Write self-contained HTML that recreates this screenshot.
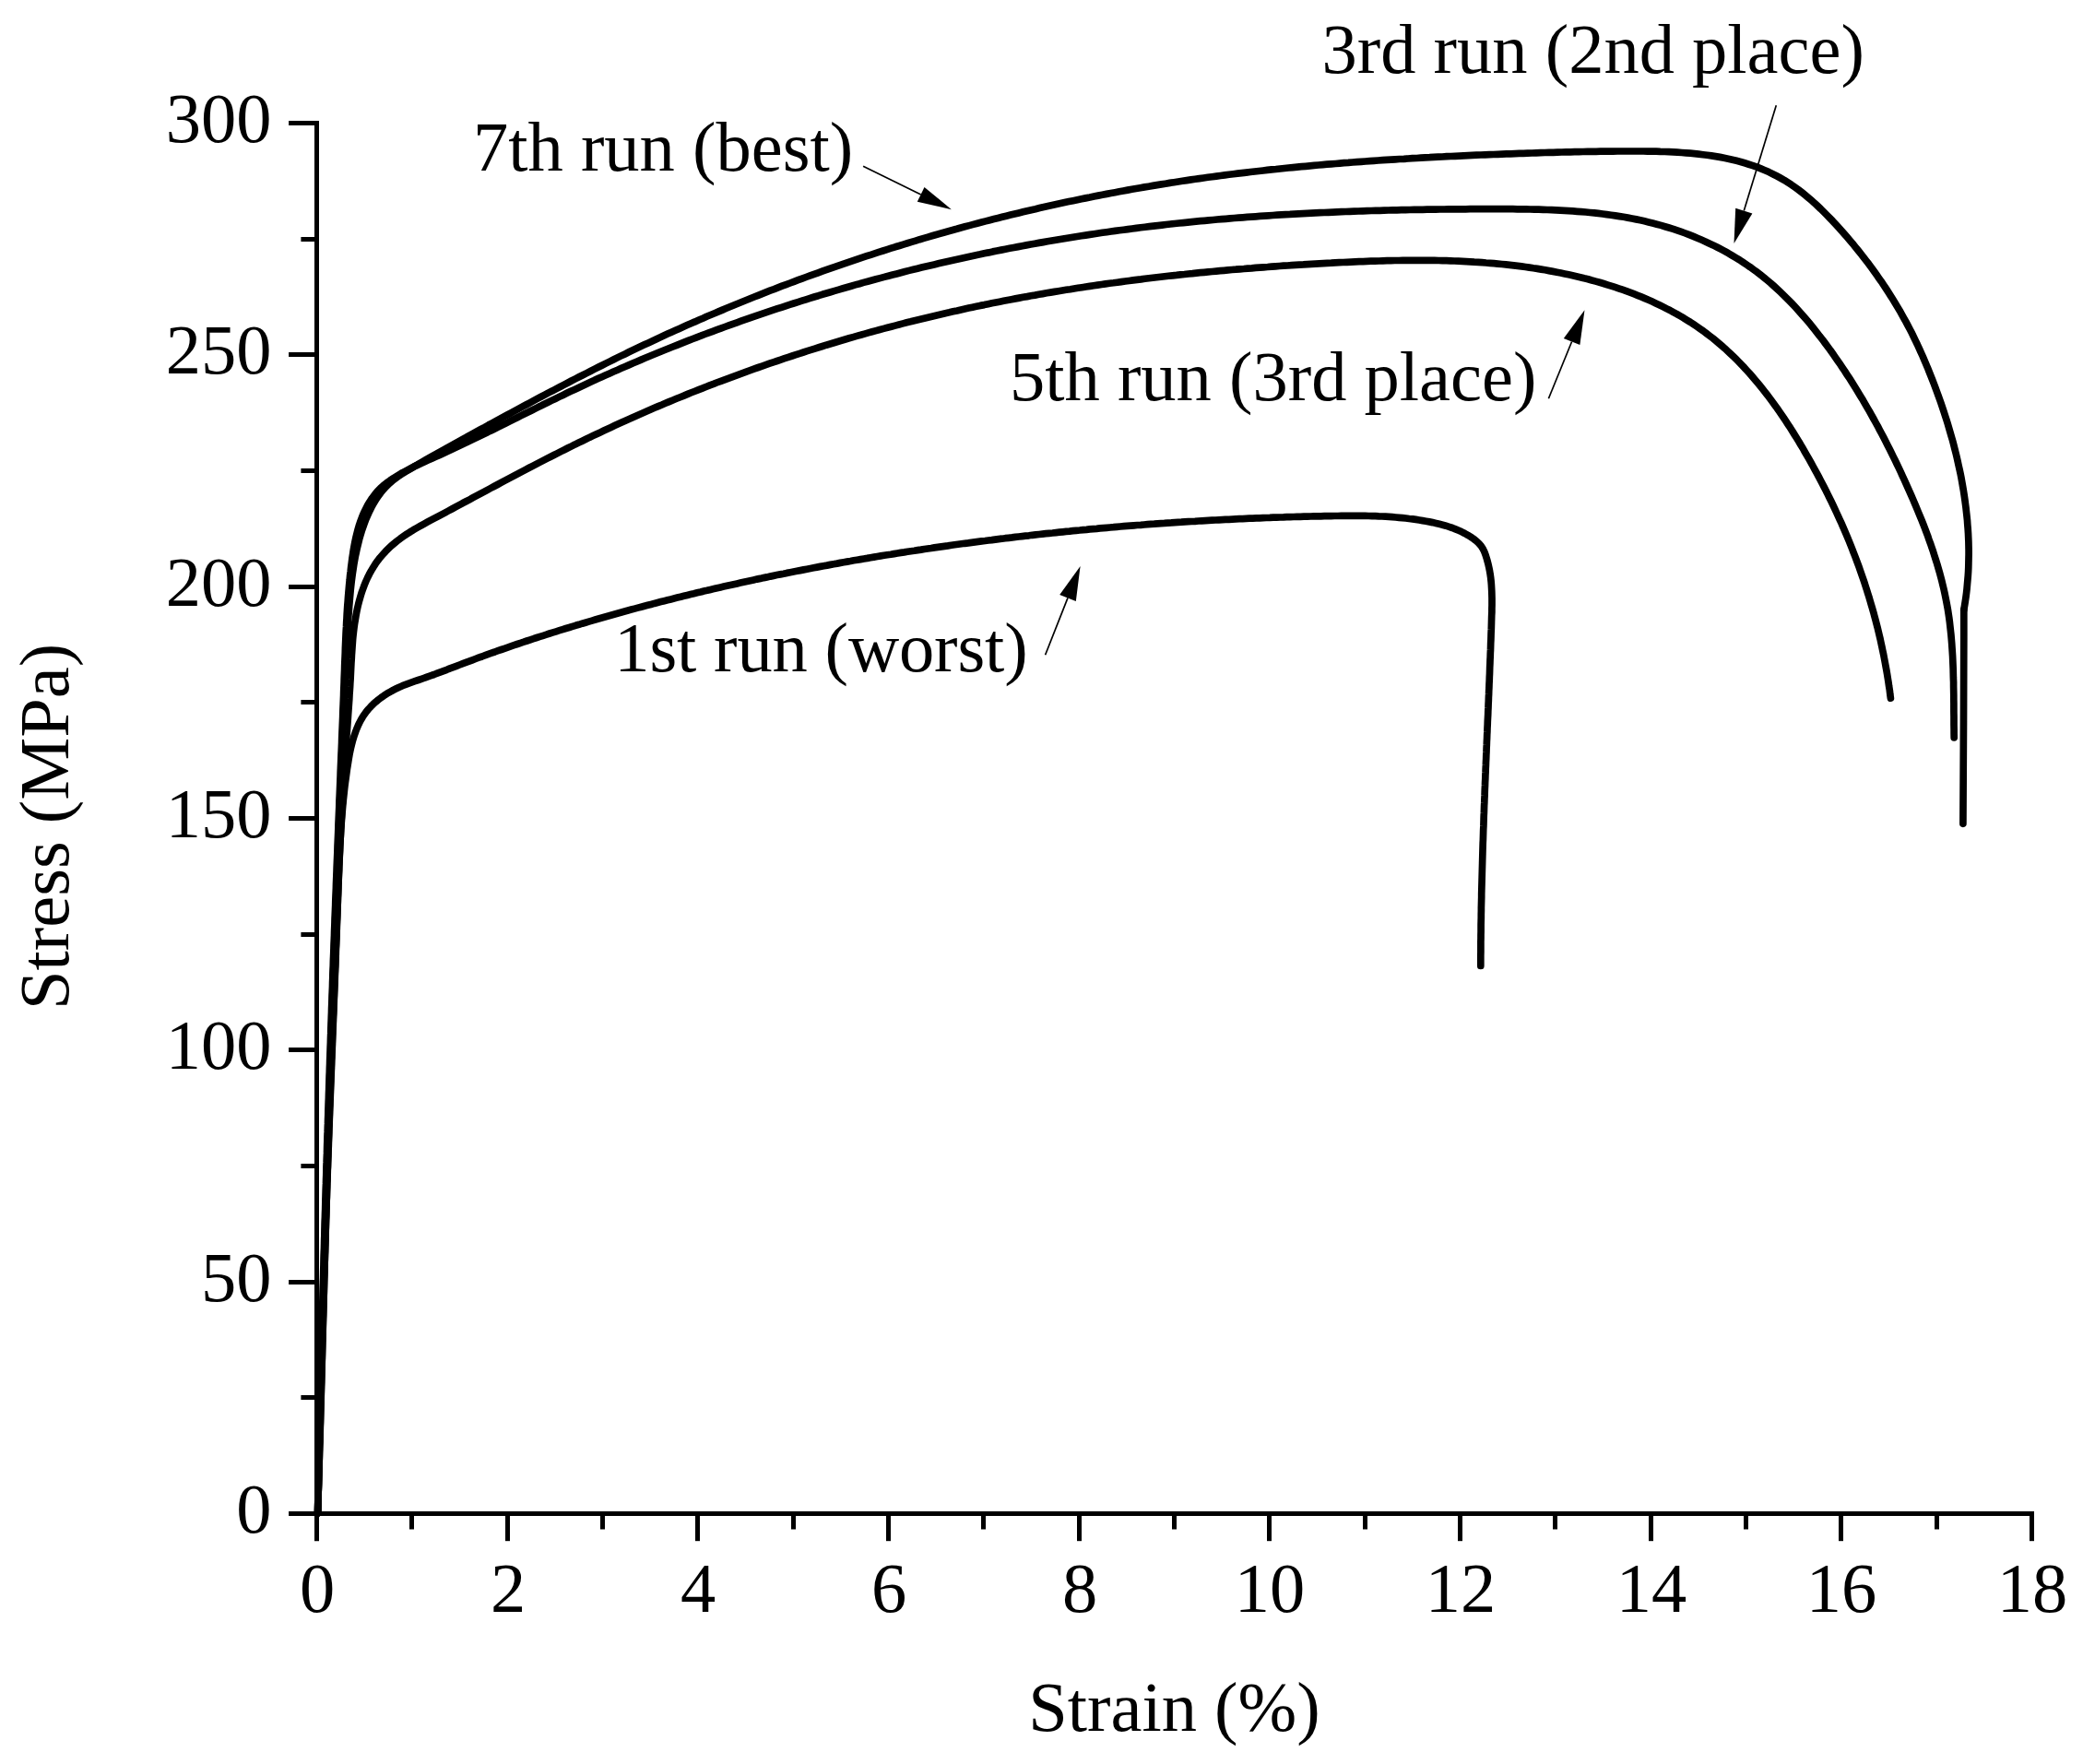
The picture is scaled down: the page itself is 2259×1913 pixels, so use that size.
<!DOCTYPE html>
<html lang="en"><head><meta charset="utf-8"><title>Stress-strain curves</title>
<style>html,body{margin:0;padding:0;background:#fff}body{width:2259px;height:1913px;overflow:hidden}svg{display:block}</style>
</head><body>
<svg width="2259" height="1913" viewBox="0 0 2259 1913" font-family="'Liberation Serif', serif" font-size="76.5" fill="#000">
<rect width="2259" height="1913" fill="#fff"/>
<g stroke="#000" stroke-width="5.0" fill="none" stroke-linecap="butt">
<line x1="343.5" y1="131.0" x2="343.5" y2="1671.2"/>
<line x1="313.1" y1="1641.5" x2="2206.0" y2="1641.5"/>
<line x1="326.4" y1="1515.5" x2="343.5" y2="1515.5"/>
<line x1="313.1" y1="1390.5" x2="343.5" y2="1390.5"/>
<line x1="326.4" y1="1264.5" x2="343.5" y2="1264.5"/>
<line x1="313.1" y1="1138.5" x2="343.5" y2="1138.5"/>
<line x1="326.4" y1="1013.5" x2="343.5" y2="1013.5"/>
<line x1="313.1" y1="887.5" x2="343.5" y2="887.5"/>
<line x1="326.4" y1="761.5" x2="343.5" y2="761.5"/>
<line x1="313.1" y1="636.5" x2="343.5" y2="636.5"/>
<line x1="326.4" y1="510.5" x2="343.5" y2="510.5"/>
<line x1="313.1" y1="384.5" x2="343.5" y2="384.5"/>
<line x1="326.4" y1="259.5" x2="343.5" y2="259.5"/>
<line x1="313.1" y1="133.5" x2="343.5" y2="133.5"/>
<line x1="446.5" y1="1641.5" x2="446.5" y2="1658.5"/>
<line x1="550.5" y1="1641.5" x2="550.5" y2="1671.2"/>
<line x1="653.5" y1="1641.5" x2="653.5" y2="1658.5"/>
<line x1="756.5" y1="1641.5" x2="756.5" y2="1671.2"/>
<line x1="860.5" y1="1641.5" x2="860.5" y2="1658.5"/>
<line x1="963.5" y1="1641.5" x2="963.5" y2="1671.2"/>
<line x1="1066.5" y1="1641.5" x2="1066.5" y2="1658.5"/>
<line x1="1170.5" y1="1641.5" x2="1170.5" y2="1671.2"/>
<line x1="1273.5" y1="1641.5" x2="1273.5" y2="1658.5"/>
<line x1="1376.5" y1="1641.5" x2="1376.5" y2="1671.2"/>
<line x1="1480.5" y1="1641.5" x2="1480.5" y2="1658.5"/>
<line x1="1583.5" y1="1641.5" x2="1583.5" y2="1671.2"/>
<line x1="1686.5" y1="1641.5" x2="1686.5" y2="1658.5"/>
<line x1="1790.5" y1="1641.5" x2="1790.5" y2="1671.2"/>
<line x1="1893.5" y1="1641.5" x2="1893.5" y2="1658.5"/>
<line x1="1996.5" y1="1641.5" x2="1996.5" y2="1671.2"/>
<line x1="2100.5" y1="1641.5" x2="2100.5" y2="1658.5"/>
<line x1="2203.5" y1="1641.5" x2="2203.5" y2="1671.2"/>
</g>
<g text-anchor="end">
<text x="294.5" y="1662.0">0</text>
<text x="294.5" y="1411.0">50</text>
<text x="294.5" y="1159.0">100</text>
<text x="294.5" y="908.0">150</text>
<text x="294.5" y="657.0">200</text>
<text x="294.5" y="405.0">250</text>
<text x="294.5" y="154.0">300</text>
</g>
<g text-anchor="middle">
<text x="344.0" y="1748">0</text>
<text x="551.0" y="1748">2</text>
<text x="757.0" y="1748">4</text>
<text x="964.0" y="1748">6</text>
<text x="1171.0" y="1748">8</text>
<text x="1377.0" y="1748">10</text>
<text x="1584.0" y="1748">12</text>
<text x="1791.0" y="1748">14</text>
<text x="1997.0" y="1748">16</text>
<text x="2204.0" y="1748">18</text>
<text x="1273.5" y="1877.3">Strain (%)</text>
<text transform="translate(73.5,896.4) rotate(-90)">Stress (MPa)</text>
</g>
<text x="513" y="185.1">7th run (best)</text>
<text x="1433.5" y="79">3rd run (2nd place)</text>
<text x="1095" y="433.7">5th run (3rd place)</text>
<text x="666.3" y="727.5" letter-spacing="-0.15">1st run (worst)</text>
<line x1="936.1" y1="180.2" x2="998.7" y2="210.9" stroke="#000" stroke-width="1.7"/><polygon points="1031.9,227.2 994.8,218.8 1002.5,203.0" fill="#000"/>
<line x1="1926.3" y1="114.3" x2="1891.3" y2="228.6" stroke="#000" stroke-width="1.7"/><polygon points="1880.5,264.0 1882.2,225.8 1900.4,231.4" fill="#000"/>
<line x1="1679.4" y1="432.3" x2="1704.6" y2="370.5" stroke="#000" stroke-width="1.7"/><polygon points="1718.5,336.2 1713.4,374.1 1695.8,366.9" fill="#000"/>
<line x1="1133.6" y1="710.2" x2="1158.0" y2="648.4" stroke="#000" stroke-width="1.7"/><polygon points="1171.6,614.0 1166.8,651.9 1149.2,644.9" fill="#000"/>
<g stroke="#000" stroke-width="7.7" fill="none" stroke-linecap="round" stroke-linejoin="round">
<path d="M344.7,1641.0 L344.8,1636.4 L344.9,1631.7 L345.0,1627.1 L345.1,1622.5 L345.2,1617.8 L345.3,1613.2 L345.4,1608.5 L345.5,1603.9 L345.6,1599.3 L345.7,1594.6 L345.8,1590.0 L345.9,1585.4 L346.0,1580.7 L346.1,1576.1 L346.3,1571.4 L346.4,1566.8 L346.5,1562.2 L346.6,1557.5 L346.7,1552.9 L346.8,1548.3 L346.9,1543.6 L347.0,1539.0 L347.1,1534.3 L347.2,1529.7 L347.3,1525.1 L347.5,1520.4 L347.6,1515.8 L347.7,1511.2 L347.8,1506.5 L347.9,1501.9 L348.0,1497.2 L348.1,1492.6 L348.3,1488.0 L348.4,1483.3 L348.5,1478.7 L348.6,1474.1 L348.7,1469.4 L348.9,1464.8 L349.0,1460.1 L349.1,1455.5 L349.2,1450.9 L349.3,1446.2 L349.5,1441.6 L349.6,1437.0 L349.7,1432.3 L349.8,1427.7 L350.0,1423.1 L350.1,1418.4 L350.2,1413.8 L350.3,1409.1 L350.5,1404.5 L350.6,1399.9 L350.7,1395.2 L350.9,1390.6 L351.0,1386.0 L351.1,1381.3 L351.2,1376.7 L351.4,1372.0 L351.5,1367.4 L351.6,1362.8 L351.8,1358.1 L351.9,1353.5 L352.0,1348.9 L352.2,1344.2 L352.3,1339.6 L352.4,1335.0 L352.6,1330.3 L352.7,1325.7 L352.8,1321.0 L353.0,1316.4 L353.1,1311.8 L353.3,1307.1 L353.4,1302.5 L353.5,1297.9 L353.7,1293.2 L353.8,1288.6 L354.0,1284.0 L354.1,1279.3 L354.2,1274.7 L354.4,1270.0 L354.5,1265.4 L354.7,1260.8 L354.8,1256.1 L355.0,1251.5 L355.1,1246.9 L355.3,1242.2 L355.4,1237.6 L355.6,1233.0 L355.7,1228.3 L355.9,1223.7 L356.0,1219.0 L356.1,1214.4 L356.3,1209.8 L356.4,1205.1 L356.6,1200.5 L356.8,1195.9 L356.9,1191.2 L357.1,1186.6 L357.2,1182.0 L357.4,1177.3 L357.5,1172.7 L357.7,1168.0 L357.8,1163.4 L358.0,1158.8 L358.1,1154.1 L358.3,1149.5 L358.4,1144.9 L358.6,1140.2 L358.8,1135.6 L358.9,1131.0 L359.1,1126.3 L359.2,1121.7 L359.4,1117.1 L359.6,1112.4 L359.7,1107.8 L359.9,1103.1 L360.0,1098.5 L360.2,1093.9 L360.4,1089.2 L360.5,1084.6 L360.7,1080.0 L360.9,1075.3 L361.0,1070.7 L361.2,1066.1 L361.4,1061.4 L361.5,1056.8 L361.7,1052.1 L361.9,1047.5 L362.0,1042.9 L362.2,1038.2 L362.4,1033.6 L362.5,1029.0 L362.7,1024.3 L362.9,1019.7 L363.0,1015.1 L363.2,1010.4 L363.4,1005.8 L363.6,1001.2 L363.7,996.5 L363.9,991.9 L364.1,987.3 L364.2,982.6 L364.4,978.0 L364.6,973.3 L364.8,968.7 L364.9,964.1 L365.1,959.4 L365.3,954.8 L365.5,950.2 L365.7,945.5 L365.8,940.9 L366.0,936.3 L366.2,931.6 L366.4,927.0 L366.5,922.4 L366.7,917.7 L366.9,913.1 L367.1,908.5 L367.3,903.8 L367.5,899.2 L367.6,894.5 L367.8,889.9 L368.0,885.3 L368.2,880.6 L368.4,876.0 L368.6,871.4 L368.7,866.7 L368.9,862.1 L369.1,857.5 L369.3,852.8 L369.5,848.2 L369.7,843.6 L369.9,838.9 L370.0,834.3 L370.2,829.7 L370.4,825.0 L370.6,820.4 L370.8,815.8 L371.0,811.1 L371.2,806.5 L371.4,801.9 L371.6,797.2 L371.8,792.6 L371.9,787.9 L372.1,783.3 L372.3,778.7 L372.5,774.0 L372.7,769.4 L372.9,764.8 L373.1,760.1 L373.3,755.5 L373.5,750.9 L373.7,746.2 L373.9,741.6 L374.1,737.0 L374.3,732.3 L374.5,727.7 L374.7,723.1 L375.0,718.4 L375.2,713.8 L375.4,709.2 L375.7,704.5 L375.9,699.9 L376.2,695.3 L376.5,690.6 L376.7,686.0 L377.0,681.4 L377.3,676.8 L377.6,672.1 L377.9,667.5 L378.3,662.9 L378.6,658.2 L379.0,653.6 L379.4,649.0 L379.8,644.4 L380.2,639.8 L380.7,635.1 L381.2,630.5 L381.8,625.9 L382.4,621.4 L383.1,616.8 L383.8,612.2 L384.6,607.6 L385.4,603.1 L386.4,598.6 L387.4,594.0 L388.5,589.5 L389.6,585.0 L390.9,580.5 L392.2,576.1 L393.7,571.7 L395.3,567.3 L396.9,563.0 L398.8,558.7 L400.7,554.5 L402.8,550.3 L405.0,546.2 L407.4,542.3 L409.9,538.4 L412.7,534.6 L415.6,531.1 L418.7,527.7 L421.9,524.5 L425.4,521.5 L429.1,518.7 L432.8,516.0 L436.7,513.4 L440.7,511.0 L444.7,508.6 L448.7,506.2 L452.8,503.9 L456.8,501.5 L460.9,499.2 L464.9,496.9 L468.9,494.6 L473.0,492.3 L477.0,490.1 L481.1,487.8 L485.1,485.6 L489.2,483.3 L493.2,481.1 L497.3,478.8 L501.3,476.6 L505.4,474.4 L509.4,472.1 L513.5,469.9 L517.5,467.7 L521.6,465.5 L525.7,463.3 L529.7,461.0 L533.8,458.8 L537.8,456.6 L541.9,454.4 L546.0,452.2 L550.1,450.0 L554.1,447.8 L558.2,445.6 L562.3,443.4 L566.4,441.2 L570.5,439.0 L574.6,436.8 L578.6,434.6 L582.7,432.4 L586.8,430.3 L590.9,428.1 L595.0,425.9 L599.2,423.8 L603.3,421.6 L607.4,419.5 L611.5,417.3 L615.6,415.2 L619.7,413.0 L623.9,410.9 L628.0,408.8 L632.1,406.7 L636.3,404.6 L640.4,402.5 L644.5,400.4 L648.7,398.3 L652.8,396.2 L657.0,394.1 L661.1,392.1 L665.3,390.0 L669.5,387.9 L673.6,385.9 L677.8,383.9 L682.0,381.8 L686.2,379.8 L690.4,377.8 L694.6,375.8 L698.8,373.8 L703.0,371.9 L707.2,369.9 L711.4,367.9 L715.6,366.0 L719.8,364.0 L724.0,362.1 L728.2,360.2 L732.5,358.3 L736.7,356.4 L740.9,354.5 L745.2,352.6 L749.4,350.7 L753.7,348.9 L757.9,347.0 L762.2,345.2 L766.4,343.3 L770.7,341.5 L775.0,339.7 L779.3,337.9 L783.5,336.1 L787.8,334.3 L792.1,332.5 L796.4,330.7 L800.7,329.0 L805.0,327.2 L809.3,325.5 L813.6,323.7 L817.9,322.0 L822.2,320.3 L826.5,318.6 L830.8,316.9 L835.1,315.2 L839.5,313.6 L843.8,311.9 L848.1,310.2 L852.5,308.6 L856.8,307.0 L861.2,305.3 L865.5,303.7 L869.9,302.1 L874.2,300.5 L878.6,298.9 L882.9,297.4 L887.3,295.8 L891.7,294.2 L896.0,292.7 L900.4,291.1 L904.8,289.6 L909.2,288.1 L913.5,286.6 L917.9,285.1 L922.3,283.6 L926.7,282.1 L931.1,280.6 L935.5,279.2 L939.9,277.7 L944.3,276.3 L948.7,274.9 L953.1,273.4 L957.6,272.0 L962.0,270.6 L966.4,269.2 L970.8,267.8 L975.3,266.5 L979.7,265.1 L984.1,263.8 L988.6,262.4 L993.0,261.1 L997.4,259.7 L1001.9,258.4 L1006.3,257.1 L1010.8,255.8 L1015.2,254.5 L1019.7,253.3 L1024.2,252.0 L1028.6,250.8 L1033.1,249.5 L1037.6,248.3 L1042.0,247.0 L1046.5,245.8 L1051.0,244.6 L1055.5,243.4 L1059.9,242.2 L1064.4,241.1 L1068.9,239.9 L1073.4,238.7 L1077.9,237.6 L1082.4,236.5 L1086.9,235.3 L1091.4,234.2 L1095.9,233.1 L1100.4,232.0 L1104.9,230.9 L1109.4,229.8 L1113.9,228.8 L1118.4,227.7 L1123.0,226.7 L1127.5,225.6 L1132.0,224.6 L1136.5,223.6 L1141.1,222.6 L1145.6,221.6 L1150.1,220.6 L1154.6,219.6 L1159.2,218.6 L1163.7,217.7 L1168.3,216.7 L1172.8,215.8 L1177.3,214.9 L1181.9,214.0 L1186.4,213.0 L1191.0,212.1 L1195.5,211.3 L1200.1,210.4 L1204.6,209.5 L1209.2,208.7 L1213.8,207.8 L1218.3,207.0 L1222.9,206.1 L1227.5,205.3 L1232.0,204.5 L1236.6,203.7 L1241.2,202.9 L1245.7,202.2 L1250.3,201.4 L1254.9,200.6 L1259.5,199.9 L1264.0,199.2 L1268.6,198.4 L1273.2,197.7 L1277.8,197.0 L1282.4,196.3 L1287.0,195.6 L1291.6,194.9 L1296.1,194.3 L1300.7,193.6 L1305.3,193.0 L1309.9,192.3 L1314.5,191.7 L1319.1,191.1 L1323.7,190.5 L1328.3,189.9 L1332.9,189.3 L1337.5,188.7 L1342.1,188.2 L1346.8,187.6 L1351.4,187.1 L1356.0,186.5 L1360.6,186.0 L1365.2,185.5 L1369.8,185.0 L1374.4,184.4 L1379.0,183.9 L1383.7,183.5 L1388.3,183.0 L1392.9,182.5 L1397.5,182.0 L1402.1,181.6 L1406.8,181.1 L1411.4,180.7 L1416.0,180.3 L1420.6,179.8 L1425.2,179.4 L1429.9,179.0 L1434.5,178.6 L1439.1,178.2 L1443.8,177.8 L1448.4,177.5 L1453.0,177.1 L1457.6,176.7 L1462.3,176.4 L1466.9,176.0 L1471.5,175.7 L1476.2,175.3 L1480.8,175.0 L1485.4,174.7 L1490.0,174.3 L1494.7,174.0 L1499.3,173.7 L1503.9,173.4 L1508.6,173.1 L1513.2,172.8 L1517.8,172.5 L1522.5,172.3 L1527.1,172.0 L1531.7,171.7 L1536.4,171.5 L1541.0,171.2 L1545.6,170.9 L1550.3,170.7 L1554.9,170.4 L1559.5,170.2 L1564.2,170.0 L1568.8,169.7 L1573.4,169.5 L1578.1,169.3 L1582.7,169.1 L1587.3,168.9 L1592.0,168.6 L1596.6,168.4 L1601.2,168.2 L1605.9,168.0 L1610.5,167.8 L1615.1,167.7 L1619.7,167.5 L1624.4,167.3 L1629.0,167.1 L1633.6,166.9 L1638.2,166.8 L1642.9,166.6 L1647.5,166.4 L1652.1,166.3 L1656.7,166.1 L1661.4,166.0 L1666.0,165.8 L1670.6,165.7 L1675.3,165.5 L1679.9,165.4 L1684.5,165.3 L1689.1,165.1 L1693.8,165.0 L1698.4,164.9 L1703.0,164.8 L1707.7,164.7 L1712.3,164.6 L1716.9,164.5 L1721.6,164.4 L1726.2,164.4 L1730.9,164.3 L1735.5,164.2 L1740.1,164.2 L1744.8,164.1 L1749.4,164.1 L1754.1,164.0 L1758.7,164.0 L1763.4,164.0 L1768.1,164.0 L1772.7,164.0 L1777.4,164.0 L1782.0,164.0 L1786.7,164.1 L1791.3,164.1 L1796.0,164.2 L1800.6,164.4 L1805.3,164.5 L1809.9,164.7 L1814.6,164.9 L1819.2,165.2 L1823.8,165.5 L1828.5,165.8 L1833.1,166.2 L1837.7,166.6 L1842.3,167.1 L1846.9,167.7 L1851.5,168.3 L1856.0,168.9 L1860.6,169.6 L1865.2,170.4 L1869.7,171.3 L1874.2,172.2 L1878.7,173.2 L1883.2,174.3 L1887.7,175.5 L1892.1,176.8 L1896.6,178.2 L1901.0,179.6 L1905.4,181.2 L1909.7,182.9 L1914.1,184.7 L1918.4,186.6 L1922.6,188.7 L1926.7,190.8 L1930.8,193.0 L1934.9,195.3 L1938.8,197.8 L1942.7,200.3 L1946.4,202.9 L1950.2,205.6 L1953.8,208.4 L1957.4,211.3 L1960.9,214.2 L1964.4,217.2 L1967.9,220.3 L1971.2,223.4 L1974.6,226.6 L1977.9,229.9 L1981.1,233.1 L1984.4,236.5 L1987.6,239.8 L1990.7,243.2 L1993.9,246.7 L1997.0,250.1 L2000.1,253.6 L2003.1,257.1 L2006.2,260.7 L2009.2,264.2 L2012.1,267.8 L2015.1,271.5 L2018.0,275.1 L2020.9,278.8 L2023.7,282.5 L2026.6,286.2 L2029.4,290.0 L2032.1,293.8 L2034.8,297.6 L2037.5,301.4 L2040.2,305.2 L2042.8,309.1 L2045.4,313.0 L2047.9,316.9 L2050.4,320.8 L2052.9,324.8 L2055.3,328.8 L2057.7,332.7 L2060.1,336.7 L2062.4,340.8 L2064.6,344.8 L2066.9,348.9 L2069.0,352.9 L2071.2,357.0 L2073.3,361.1 L2075.3,365.2 L2077.3,369.4 L2079.3,373.5 L2081.2,377.7 L2083.1,381.9 L2085.0,386.0 L2086.8,390.3 L2088.6,394.5 L2090.4,398.7 L2092.1,403.0 L2093.8,407.2 L2095.5,411.5 L2097.2,415.8 L2098.8,420.1 L2100.4,424.5 L2102.0,428.8 L2103.6,433.2 L2105.1,437.6 L2106.6,442.0 L2108.1,446.4 L2109.5,450.8 L2110.9,455.2 L2112.3,459.7 L2113.6,464.1 L2114.9,468.6 L2116.2,473.1 L2117.5,477.5 L2118.7,482.0 L2119.8,486.5 L2121.0,491.1 L2122.1,495.6 L2123.1,500.1 L2124.1,504.7 L2125.1,509.2 L2126.1,513.8 L2127.0,518.3 L2127.8,522.9 L2128.6,527.5 L2129.4,532.1 L2130.1,536.7 L2130.8,541.3 L2131.4,545.9 L2132.0,550.5 L2132.5,555.1 L2133.0,559.7 L2133.5,564.3 L2133.8,568.9 L2134.2,573.6 L2134.5,578.2 L2134.7,582.8 L2134.9,587.4 L2135.0,592.1 L2135.1,596.7 L2135.1,601.3 L2135.0,605.9 L2134.9,610.6 L2134.8,615.2 L2134.6,619.8 L2134.3,624.4 L2133.9,629.1 L2133.5,633.7 L2133.1,638.3 L2132.6,642.9 L2132.0,647.5 L2131.3,652.1 L2130.6,656.7 L2129.8,661.3"/>
<path d="M2129.8,661.3 L2129.8,690.2 L2129.5,782.0 L2128.9,893.3"/>
<path d="M344.8,1641.0 L344.9,1636.4 L344.9,1631.7 L345.0,1627.1 L345.1,1622.4 L345.2,1617.8 L345.3,1613.1 L345.4,1608.5 L345.5,1603.9 L345.6,1599.2 L345.7,1594.6 L345.8,1589.9 L345.9,1585.3 L345.9,1580.6 L346.0,1576.0 L346.1,1571.3 L346.2,1566.7 L346.3,1562.0 L346.4,1557.4 L346.5,1552.7 L346.6,1548.1 L346.7,1543.5 L346.8,1538.8 L346.9,1534.2 L347.0,1529.5 L347.1,1524.9 L347.2,1520.2 L347.3,1515.6 L347.5,1510.9 L347.6,1506.3 L347.7,1501.6 L347.8,1497.0 L347.9,1492.4 L348.0,1487.7 L348.1,1483.1 L348.2,1478.4 L348.3,1473.8 L348.4,1469.1 L348.6,1464.5 L348.7,1459.8 L348.8,1455.2 L348.9,1450.5 L349.0,1445.9 L349.1,1441.3 L349.2,1436.6 L349.4,1432.0 L349.5,1427.3 L349.6,1422.7 L349.7,1418.0 L349.8,1413.4 L350.0,1408.7 L350.1,1404.1 L350.2,1399.5 L350.3,1394.8 L350.4,1390.2 L350.6,1385.5 L350.7,1380.9 L350.8,1376.2 L351.0,1371.6 L351.1,1367.0 L351.2,1362.3 L351.3,1357.7 L351.5,1353.0 L351.6,1348.4 L351.7,1343.7 L351.9,1339.1 L352.0,1334.4 L352.1,1329.8 L352.2,1325.2 L352.4,1320.5 L352.5,1315.9 L352.7,1311.2 L352.8,1306.6 L352.9,1301.9 L353.1,1297.3 L353.2,1292.7 L353.3,1288.0 L353.5,1283.4 L353.6,1278.7 L353.8,1274.1 L353.9,1269.4 L354.0,1264.8 L354.2,1260.2 L354.3,1255.5 L354.5,1250.9 L354.6,1246.2 L354.7,1241.6 L354.9,1236.9 L355.0,1232.3 L355.2,1227.7 L355.3,1223.0 L355.5,1218.4 L355.6,1213.7 L355.8,1209.1 L355.9,1204.4 L356.1,1199.8 L356.2,1195.1 L356.4,1190.5 L356.5,1185.9 L356.7,1181.2 L356.8,1176.6 L357.0,1171.9 L357.1,1167.3 L357.3,1162.6 L357.4,1158.0 L357.6,1153.4 L357.7,1148.7 L357.9,1144.1 L358.1,1139.4 L358.2,1134.8 L358.4,1130.1 L358.5,1125.5 L358.7,1120.9 L358.8,1116.2 L359.0,1111.6 L359.2,1106.9 L359.3,1102.3 L359.5,1097.6 L359.6,1093.0 L359.8,1088.4 L360.0,1083.7 L360.1,1079.1 L360.3,1074.4 L360.5,1069.8 L360.6,1065.1 L360.8,1060.5 L360.9,1055.9 L361.1,1051.2 L361.3,1046.6 L361.4,1041.9 L361.6,1037.3 L361.8,1032.6 L362.0,1028.0 L362.1,1023.4 L362.3,1018.7 L362.5,1014.1 L362.6,1009.4 L362.8,1004.8 L363.0,1000.1 L363.1,995.5 L363.3,990.9 L363.5,986.2 L363.7,981.6 L363.8,976.9 L364.0,972.3 L364.2,967.6 L364.4,963.0 L364.5,958.3 L364.7,953.7 L364.9,949.1 L365.1,944.4 L365.2,939.8 L365.4,935.1 L365.6,930.5 L365.8,925.8 L366.0,921.2 L366.1,916.6 L366.3,911.9 L366.5,907.3 L366.7,902.6 L366.9,898.0 L367.0,893.3 L367.2,888.7 L367.4,884.0 L367.6,879.4 L367.8,874.8 L367.9,870.1 L368.1,865.5 L368.3,860.8 L368.5,856.2 L368.7,851.5 L368.9,846.9 L369.1,842.2 L369.2,837.6 L369.4,833.0 L369.6,828.3 L369.8,823.7 L370.0,819.0 L370.2,814.4 L370.4,809.7 L370.6,805.1 L370.7,800.4 L370.9,795.8 L371.1,791.2 L371.3,786.5 L371.5,781.9 L371.7,777.2 L371.8,772.6 L372.0,767.9 L372.2,763.3 L372.4,758.7 L372.6,754.0 L372.7,749.4 L372.9,744.8 L373.1,740.1 L373.2,735.5 L373.4,730.9 L373.6,726.2 L373.7,721.6 L373.9,717.0 L374.1,712.4 L374.3,707.7 L374.4,703.1 L374.6,698.5 L374.8,693.8 L375.0,689.2 L375.2,684.6 L375.5,680.0 L375.7,675.3 L376.0,670.7 L376.2,666.1 L376.5,661.4 L376.8,656.8 L377.2,652.2 L377.5,647.5 L377.9,642.9 L378.3,638.3 L378.7,633.6 L379.2,629.0 L379.6,624.3 L380.2,619.7 L380.7,615.0 L381.3,610.4 L381.9,605.7 L382.6,601.1 L383.3,596.4 L384.1,591.8 L385.0,587.2 L386.0,582.6 L387.1,578.1 L388.3,573.6 L389.6,569.2 L391.1,564.8 L392.7,560.5 L394.5,556.2 L396.5,552.1 L398.6,548.0 L401.0,544.0 L403.5,540.2 L406.3,536.5 L409.2,533.0 L412.4,529.7 L415.8,526.6 L419.4,523.7 L423.1,521.0 L426.9,518.4 L430.9,515.9 L434.9,513.5 L439.0,511.3 L443.2,509.1 L447.3,507.0 L451.5,504.9 L455.7,503.0 L460.0,501.0 L464.2,499.1 L468.4,497.2 L472.7,495.3 L476.9,493.4 L481.1,491.4 L485.3,489.5 L489.6,487.5 L493.8,485.6 L498.0,483.6 L502.2,481.6 L506.4,479.6 L510.5,477.6 L514.7,475.6 L518.9,473.5 L523.1,471.5 L527.3,469.5 L531.4,467.4 L535.6,465.4 L539.8,463.3 L543.9,461.2 L548.1,459.2 L552.3,457.1 L556.4,455.0 L560.6,453.0 L564.7,450.9 L568.9,448.8 L573.1,446.8 L577.2,444.7 L581.4,442.6 L585.6,440.6 L589.7,438.5 L593.9,436.5 L598.1,434.4 L602.3,432.4 L606.4,430.4 L610.6,428.4 L614.8,426.3 L619.0,424.3 L623.2,422.4 L627.4,420.4 L631.6,418.4 L635.8,416.4 L640.0,414.5 L644.3,412.6 L648.5,410.6 L652.7,408.7 L657.0,406.8 L661.2,404.9 L665.4,403.0 L669.7,401.2 L673.9,399.3 L678.2,397.4 L682.5,395.6 L686.7,393.8 L691.0,391.9 L695.3,390.1 L699.6,388.3 L703.9,386.5 L708.1,384.8 L712.4,383.0 L716.7,381.2 L721.0,379.5 L725.4,377.7 L729.7,376.0 L734.0,374.3 L738.3,372.6 L742.6,370.9 L747.0,369.2 L751.3,367.5 L755.6,365.8 L760.0,364.2 L764.3,362.5 L768.7,360.9 L773.0,359.3 L777.4,357.7 L781.7,356.1 L786.1,354.5 L790.5,352.9 L794.8,351.3 L799.2,349.8 L803.6,348.2 L808.0,346.7 L812.4,345.1 L816.7,343.6 L821.1,342.1 L825.5,340.6 L829.9,339.1 L834.3,337.6 L838.7,336.2 L843.2,334.7 L847.6,333.3 L852.0,331.8 L856.4,330.4 L860.8,329.0 L865.3,327.6 L869.7,326.2 L874.1,324.8 L878.6,323.4 L883.0,322.0 L887.5,320.7 L891.9,319.3 L896.4,318.0 L900.8,316.7 L905.3,315.4 L909.7,314.1 L914.2,312.8 L918.7,311.5 L923.1,310.2 L927.6,308.9 L932.1,307.7 L936.5,306.4 L941.0,305.2 L945.5,304.0 L950.0,302.8 L954.5,301.6 L959.0,300.4 L963.5,299.2 L968.0,298.0 L972.5,296.9 L977.0,295.7 L981.5,294.6 L986.0,293.4 L990.5,292.3 L995.0,291.2 L999.5,290.1 L1004.0,289.0 L1008.6,287.9 L1013.1,286.9 L1017.6,285.8 L1022.1,284.8 L1026.7,283.7 L1031.2,282.7 L1035.7,281.7 L1040.3,280.7 L1044.8,279.7 L1049.3,278.7 L1053.9,277.7 L1058.4,276.7 L1063.0,275.8 L1067.5,274.8 L1072.1,273.9 L1076.6,272.9 L1081.2,272.0 L1085.7,271.1 L1090.3,270.2 L1094.9,269.3 L1099.4,268.5 L1104.0,267.6 L1108.6,266.7 L1113.1,265.9 L1117.7,265.0 L1122.3,264.2 L1126.8,263.4 L1131.4,262.6 L1136.0,261.8 L1140.6,261.0 L1145.2,260.2 L1149.7,259.5 L1154.3,258.7 L1158.9,258.0 L1163.5,257.2 L1168.1,256.5 L1172.7,255.8 L1177.3,255.1 L1181.9,254.4 L1186.4,253.7 L1191.0,253.0 L1195.6,252.3 L1200.2,251.7 L1204.8,251.0 L1209.4,250.4 L1214.0,249.8 L1218.6,249.2 L1223.2,248.6 L1227.8,248.0 L1232.5,247.4 L1237.1,246.8 L1241.7,246.2 L1246.3,245.7 L1250.9,245.1 L1255.5,244.6 L1260.1,244.1 L1264.7,243.5 L1269.3,243.0 L1273.9,242.5 L1278.6,242.0 L1283.2,241.6 L1287.8,241.1 L1292.4,240.6 L1297.0,240.2 L1301.7,239.7 L1306.3,239.3 L1310.9,238.9 L1315.5,238.5 L1320.1,238.0 L1324.8,237.6 L1329.4,237.3 L1334.0,236.9 L1338.6,236.5 L1343.3,236.1 L1347.9,235.8 L1352.5,235.4 L1357.2,235.1 L1361.8,234.8 L1366.4,234.4 L1371.1,234.1 L1375.7,233.8 L1380.3,233.5 L1385.0,233.2 L1389.6,232.9 L1394.2,232.6 L1398.9,232.4 L1403.5,232.1 L1408.1,231.9 L1412.8,231.6 L1417.4,231.4 L1422.1,231.1 L1426.7,230.9 L1431.3,230.7 L1436.0,230.5 L1440.6,230.3 L1445.3,230.1 L1449.9,229.9 L1454.6,229.7 L1459.2,229.5 L1463.9,229.3 L1468.5,229.2 L1473.1,229.0 L1477.8,228.8 L1482.4,228.7 L1487.1,228.5 L1491.7,228.4 L1496.4,228.3 L1501.0,228.2 L1505.7,228.0 L1510.4,227.9 L1515.0,227.8 L1519.7,227.7 L1524.3,227.6 L1529.0,227.5 L1533.6,227.4 L1538.3,227.3 L1542.9,227.3 L1547.6,227.2 L1552.2,227.1 L1556.9,227.1 L1561.6,227.0 L1566.2,227.0 L1570.9,226.9 L1575.5,226.9 L1580.2,226.8 L1584.9,226.8 L1589.5,226.8 L1594.2,226.7 L1598.8,226.7 L1603.5,226.7 L1608.2,226.7 L1612.8,226.7 L1617.5,226.7 L1622.2,226.7 L1626.8,226.7 L1631.5,226.7 L1636.1,226.7 L1640.8,226.7 L1645.5,226.8 L1650.1,226.8 L1654.8,226.9 L1659.4,227.0 L1664.1,227.1 L1668.8,227.2 L1673.4,227.3 L1678.0,227.5 L1682.7,227.7 L1687.3,227.9 L1692.0,228.1 L1696.6,228.3 L1701.2,228.6 L1705.8,228.9 L1710.5,229.3 L1715.1,229.6 L1719.7,230.0 L1724.3,230.5 L1728.9,230.9 L1733.4,231.4 L1738.0,232.0 L1742.6,232.6 L1747.2,233.2 L1751.7,233.9 L1756.3,234.6 L1760.8,235.3 L1765.3,236.1 L1769.9,237.0 L1774.4,237.9 L1778.9,238.8 L1783.4,239.8 L1787.9,240.9 L1792.3,242.0 L1796.8,243.2 L1801.3,244.4 L1805.7,245.7 L1810.1,247.0 L1814.6,248.4 L1819.0,249.9 L1823.4,251.4 L1827.8,253.0 L1832.1,254.7 L1836.5,256.4 L1840.8,258.2 L1845.1,260.0 L1849.4,261.9 L1853.6,263.9 L1857.9,265.9 L1862.1,268.0 L1866.2,270.2 L1870.4,272.4 L1874.5,274.7 L1878.5,277.1 L1882.5,279.5 L1886.5,281.9 L1890.4,284.5 L1894.3,287.1 L1898.1,289.7 L1901.9,292.5 L1905.7,295.2 L1909.3,298.1 L1913.0,301.0 L1916.5,303.9 L1920.1,306.9 L1923.6,310.0 L1927.0,313.1 L1930.4,316.3 L1933.7,319.5 L1937.0,322.7 L1940.3,326.0 L1943.5,329.3 L1946.7,332.7 L1949.8,336.1 L1952.9,339.6 L1956.0,343.1 L1959.0,346.6 L1962.0,350.1 L1965.0,353.7 L1967.9,357.3 L1970.8,361.0 L1973.6,364.7 L1976.5,368.3 L1979.3,372.1 L1982.0,375.8 L1984.8,379.5 L1987.5,383.3 L1990.1,387.1 L1992.8,390.9 L1995.4,394.7 L1998.0,398.6 L2000.6,402.4 L2003.1,406.3 L2005.7,410.2 L2008.2,414.1 L2010.6,418.0 L2013.1,422.0 L2015.5,425.9 L2017.9,429.9 L2020.3,433.8 L2022.6,437.8 L2024.9,441.8 L2027.3,445.9 L2029.5,449.9 L2031.8,454.0 L2034.0,458.0 L2036.3,462.1 L2038.4,466.2 L2040.6,470.3 L2042.8,474.4 L2044.9,478.5 L2047.0,482.7 L2049.1,486.8 L2051.2,491.0 L2053.2,495.1 L2055.3,499.3 L2057.3,503.5 L2059.3,507.7 L2061.3,511.9 L2063.2,516.1 L2065.2,520.4 L2067.1,524.6 L2069.0,528.9 L2070.9,533.1 L2072.8,537.4 L2074.7,541.7 L2076.5,546.0 L2078.3,550.2 L2080.1,554.6 L2081.9,558.9 L2083.7,563.2 L2085.4,567.5 L2087.1,571.9 L2088.7,576.2 L2090.4,580.6 L2091.9,585.0 L2093.5,589.3 L2095.0,593.7 L2096.5,598.1 L2097.9,602.6 L2099.3,607.0 L2100.7,611.4 L2102.0,615.9 L2103.3,620.3 L2104.5,624.8 L2105.7,629.3 L2106.8,633.8 L2107.9,638.3 L2108.9,642.8 L2109.8,647.3 L2110.7,651.8 L2111.6,656.4 L2112.4,660.9 L2113.1,665.5 L2113.8,670.1 L2114.4,674.7 L2114.9,679.3 L2115.4,683.9 L2115.9,688.5 L2116.3,693.1 L2116.7,697.8 L2117.0,702.4 L2117.3,707.0 L2117.6,711.7 L2117.8,716.3 L2118.0,721.0 L2118.2,725.6 L2118.3,730.3 L2118.4,735.0 L2118.6,739.6 L2118.6,744.3 L2118.7,748.9 L2118.8,753.6 L2118.8,758.3 L2118.9,762.9 L2118.9,767.6 L2118.9,772.2 L2119.0,776.8 L2119.0,781.5 L2119.0,786.1 L2119.1,790.7 L2119.1,795.3 L2119.2,800.0"/>
<path d="M344.5,1641.0 L344.6,1636.7 L344.7,1632.4 L344.8,1628.1 L345.0,1623.8 L345.1,1619.5 L345.2,1615.1 L345.4,1610.8 L345.5,1606.5 L345.6,1602.2 L345.8,1597.9 L345.9,1593.6 L346.0,1589.3 L346.1,1585.0 L346.3,1580.7 L346.4,1576.4 L346.5,1572.0 L346.6,1567.7 L346.8,1563.4 L346.9,1559.1 L347.0,1554.8 L347.1,1550.5 L347.2,1546.2 L347.4,1541.9 L347.5,1537.6 L347.6,1533.3 L347.7,1529.0 L347.8,1524.6 L348.0,1520.3 L348.1,1516.0 L348.2,1511.7 L348.3,1507.4 L348.4,1503.1 L348.6,1498.8 L348.7,1494.5 L348.8,1490.2 L348.9,1485.9 L349.0,1481.5 L349.1,1477.2 L349.3,1472.9 L349.4,1468.6 L349.5,1464.3 L349.6,1460.0 L349.7,1455.7 L349.9,1451.4 L350.0,1447.1 L350.1,1442.8 L350.2,1438.4 L350.3,1434.1 L350.4,1429.8 L350.6,1425.5 L350.7,1421.2 L350.8,1416.9 L350.9,1412.6 L351.0,1408.3 L351.2,1404.0 L351.3,1399.7 L351.4,1395.4 L351.5,1391.0 L351.6,1386.7 L351.8,1382.4 L351.9,1378.1 L352.0,1373.8 L352.1,1369.5 L352.3,1365.2 L352.4,1360.9 L352.5,1356.6 L352.6,1352.3 L352.8,1348.0 L352.9,1343.6 L353.0,1339.3 L353.1,1335.0 L353.3,1330.7 L353.4,1326.4 L353.5,1322.1 L353.7,1317.8 L353.8,1313.5 L353.9,1309.2 L354.0,1304.9 L354.2,1300.6 L354.3,1296.2 L354.4,1291.9 L354.6,1287.6 L354.7,1283.3 L354.9,1279.0 L355.0,1274.7 L355.1,1270.4 L355.3,1266.1 L355.4,1261.8 L355.6,1257.5 L355.7,1253.2 L355.8,1248.8 L356.0,1244.5 L356.1,1240.2 L356.3,1235.9 L356.4,1231.6 L356.6,1227.3 L356.7,1223.0 L356.9,1218.7 L357.0,1214.4 L357.2,1210.1 L357.3,1205.8 L357.5,1201.4 L357.7,1197.1 L357.8,1192.8 L358.0,1188.5 L358.1,1184.2 L358.3,1179.9 L358.5,1175.6 L358.6,1171.3 L358.8,1167.0 L358.9,1162.7 L359.1,1158.4 L359.3,1154.1 L359.4,1149.7 L359.6,1145.4 L359.8,1141.1 L360.0,1136.8 L360.1,1132.5 L360.3,1128.2 L360.5,1123.9 L360.6,1119.6 L360.8,1115.3 L361.0,1111.0 L361.1,1106.7 L361.3,1102.4 L361.5,1098.0 L361.7,1093.7 L361.8,1089.4 L362.0,1085.1 L362.2,1080.8 L362.4,1076.5 L362.5,1072.2 L362.7,1067.9 L362.9,1063.6 L363.0,1059.3 L363.2,1055.0 L363.4,1050.7 L363.6,1046.4 L363.7,1042.0 L363.9,1037.7 L364.1,1033.4 L364.2,1029.1 L364.4,1024.8 L364.6,1020.5 L364.7,1016.2 L364.9,1011.9 L365.1,1007.6 L365.2,1003.3 L365.4,999.0 L365.6,994.7 L365.8,990.4 L365.9,986.0 L366.1,981.7 L366.3,977.4 L366.4,973.1 L366.6,968.8 L366.8,964.5 L366.9,960.2 L367.1,955.9 L367.3,951.6 L367.5,947.3 L367.7,943.0 L367.8,938.7 L368.0,934.4 L368.2,930.1 L368.4,925.8 L368.6,921.4 L368.8,917.1 L369.0,912.8 L369.2,908.5 L369.4,904.2 L369.6,899.9 L369.8,895.6 L370.0,891.3 L370.3,887.0 L370.5,882.7 L370.7,878.4 L371.0,874.1 L371.2,869.8 L371.4,865.5 L371.7,861.2 L371.9,856.9 L372.2,852.6 L372.5,848.3 L372.7,843.9 L373.0,839.6 L373.3,835.3 L373.6,831.0 L373.9,826.7 L374.2,822.4 L374.5,818.1 L374.8,813.8 L375.1,809.5 L375.4,805.2 L375.7,800.9 L376.0,796.6 L376.4,792.3 L376.7,788.0 L377.0,783.7 L377.3,779.4 L377.6,775.1 L377.9,770.8 L378.2,766.5 L378.5,762.2 L378.8,757.9 L379.0,753.6 L379.3,749.3 L379.6,745.0 L379.8,740.7 L380.1,736.4 L380.3,732.1 L380.5,727.8 L380.7,723.5 L380.9,719.2 L381.2,715.0 L381.4,710.7 L381.7,706.4 L382.0,702.1 L382.3,697.8 L382.6,693.5 L383.0,689.2 L383.5,684.9 L384.0,680.6 L384.6,676.3 L385.3,672.1 L386.0,667.8 L386.8,663.5 L387.7,659.3 L388.7,655.0 L389.8,650.8 L391.0,646.7 L392.2,642.6 L393.7,638.5 L395.2,634.4 L396.8,630.5 L398.6,626.5 L400.5,622.7 L402.6,618.9 L404.8,615.2 L407.1,611.6 L409.6,608.1 L412.2,604.7 L415.0,601.5 L417.9,598.3 L420.9,595.3 L424.0,592.3 L427.3,589.5 L430.6,586.8 L434.0,584.2 L437.5,581.7 L441.0,579.3 L444.7,576.9 L448.3,574.7 L452.1,572.5 L455.8,570.4 L459.6,568.3 L463.4,566.2 L467.2,564.2 L471.0,562.2 L474.9,560.1 L478.7,558.1 L482.5,556.1 L486.3,554.0 L490.1,552.0 L493.9,549.9 L497.7,547.9 L501.5,545.8 L505.4,543.8 L509.2,541.8 L513.0,539.7 L516.8,537.7 L520.6,535.6 L524.4,533.6 L528.2,531.6 L532.0,529.5 L535.8,527.5 L539.6,525.5 L543.4,523.4 L547.2,521.4 L551.0,519.4 L554.8,517.4 L558.6,515.3 L562.4,513.3 L566.2,511.3 L570.0,509.3 L573.9,507.3 L577.7,505.3 L581.5,503.3 L585.3,501.4 L589.2,499.4 L593.0,497.4 L596.8,495.5 L600.7,493.5 L604.5,491.6 L608.3,489.6 L612.2,487.7 L616.0,485.8 L619.9,483.9 L623.7,481.9 L627.6,480.1 L631.5,478.2 L635.4,476.3 L639.2,474.4 L643.1,472.6 L647.0,470.7 L650.9,468.9 L654.8,467.0 L658.7,465.2 L662.6,463.4 L666.5,461.6 L670.4,459.8 L674.3,458.0 L678.3,456.2 L682.2,454.5 L686.1,452.7 L690.1,450.9 L694.0,449.2 L698.0,447.5 L701.9,445.8 L705.9,444.0 L709.8,442.3 L713.8,440.6 L717.8,439.0 L721.7,437.3 L725.7,435.6 L729.7,434.0 L733.7,432.3 L737.7,430.7 L741.7,429.1 L745.7,427.4 L749.7,425.8 L753.7,424.2 L757.7,422.6 L761.7,421.1 L765.7,419.5 L769.7,417.9 L773.8,416.4 L777.8,414.8 L781.8,413.3 L785.8,411.8 L789.9,410.3 L793.9,408.8 L798.0,407.3 L802.0,405.8 L806.1,404.3 L810.1,402.8 L814.2,401.4 L818.3,399.9 L822.3,398.5 L826.4,397.1 L830.5,395.7 L834.6,394.2 L838.6,392.8 L842.7,391.5 L846.8,390.1 L850.9,388.7 L855.0,387.3 L859.1,386.0 L863.2,384.6 L867.3,383.3 L871.4,382.0 L875.5,380.7 L879.6,379.4 L883.7,378.1 L887.9,376.8 L892.0,375.5 L896.1,374.2 L900.2,373.0 L904.4,371.7 L908.5,370.5 L912.6,369.3 L916.8,368.0 L920.9,366.8 L925.1,365.6 L929.2,364.4 L933.4,363.3 L937.5,362.1 L941.7,360.9 L945.8,359.8 L950.0,358.6 L954.1,357.5 L958.3,356.4 L962.5,355.3 L966.6,354.2 L970.8,353.1 L975.0,352.0 L979.2,350.9 L983.3,349.8 L987.5,348.8 L991.7,347.7 L995.9,346.7 L1000.1,345.7 L1004.3,344.7 L1008.5,343.7 L1012.7,342.7 L1016.9,341.7 L1021.1,340.7 L1025.3,339.7 L1029.5,338.8 L1033.7,337.8 L1037.9,336.9 L1042.1,335.9 L1046.3,335.0 L1050.5,334.1 L1054.7,333.2 L1058.9,332.3 L1063.1,331.4 L1067.4,330.6 L1071.6,329.7 L1075.8,328.8 L1080.0,328.0 L1084.2,327.2 L1088.5,326.3 L1092.7,325.5 L1096.9,324.7 L1101.2,323.9 L1105.4,323.1 L1109.6,322.3 L1113.9,321.6 L1118.1,320.8 L1122.4,320.1 L1126.6,319.3 L1130.8,318.6 L1135.1,317.8 L1139.3,317.1 L1143.6,316.4 L1147.8,315.7 L1152.1,315.0 L1156.3,314.3 L1160.6,313.7 L1164.8,313.0 L1169.1,312.3 L1173.3,311.7 L1177.6,311.0 L1181.9,310.4 L1186.1,309.8 L1190.4,309.1 L1194.7,308.5 L1198.9,307.9 L1203.2,307.3 L1207.5,306.8 L1211.7,306.2 L1216.0,305.6 L1220.3,305.0 L1224.5,304.5 L1228.8,303.9 L1233.1,303.4 L1237.4,302.9 L1241.6,302.3 L1245.9,301.8 L1250.2,301.3 L1254.5,300.8 L1258.8,300.3 L1263.1,299.8 L1267.3,299.3 L1271.6,298.8 L1275.9,298.4 L1280.2,297.9 L1284.5,297.5 L1288.8,297.0 L1293.1,296.6 L1297.4,296.1 L1301.6,295.7 L1305.9,295.3 L1310.2,294.9 L1314.5,294.5 L1318.8,294.1 L1323.1,293.7 L1327.4,293.3 L1331.7,292.9 L1336.0,292.5 L1340.3,292.2 L1344.6,291.8 L1348.9,291.5 L1353.2,291.1 L1357.5,290.8 L1361.8,290.4 L1366.1,290.1 L1370.4,289.8 L1374.7,289.5 L1379.0,289.1 L1383.3,288.8 L1387.7,288.5 L1392.0,288.2 L1396.3,288.0 L1400.6,287.7 L1404.9,287.4 L1409.2,287.1 L1413.5,286.9 L1417.8,286.6 L1422.1,286.3 L1426.4,286.1 L1430.7,285.9 L1435.1,285.6 L1439.4,285.4 L1443.7,285.2 L1448.0,284.9 L1452.3,284.7 L1456.6,284.5 L1460.9,284.3 L1465.3,284.1 L1469.6,283.9 L1473.9,283.7 L1478.2,283.6 L1482.5,283.4 L1486.8,283.2 L1491.1,283.1 L1495.5,283.0 L1499.8,282.8 L1504.1,282.7 L1508.4,282.6 L1512.7,282.5 L1517.0,282.5 L1521.3,282.4 L1525.6,282.4 L1530.0,282.3 L1534.3,282.3 L1538.6,282.3 L1542.9,282.3 L1547.2,282.3 L1551.5,282.4 L1555.8,282.4 L1560.1,282.5 L1564.4,282.6 L1568.7,282.7 L1573.0,282.8 L1577.3,283.0 L1581.6,283.2 L1585.9,283.4 L1590.2,283.6 L1594.5,283.8 L1598.8,284.1 L1603.1,284.3 L1607.3,284.6 L1611.6,285.0 L1615.9,285.3 L1620.2,285.7 L1624.5,286.1 L1628.8,286.5 L1633.0,286.9 L1637.3,287.4 L1641.6,287.9 L1645.9,288.4 L1650.1,288.9 L1654.4,289.5 L1658.6,290.1 L1662.9,290.8 L1667.2,291.4 L1671.4,292.1 L1675.7,292.8 L1679.9,293.6 L1684.2,294.4 L1688.4,295.2 L1692.7,296.0 L1696.9,296.9 L1701.1,297.8 L1705.4,298.7 L1709.6,299.7 L1713.8,300.7 L1718.0,301.8 L1722.2,302.8 L1726.4,304.0 L1730.6,305.1 L1734.8,306.3 L1739.0,307.5 L1743.1,308.8 L1747.3,310.1 L1751.4,311.4 L1755.5,312.8 L1759.6,314.2 L1763.7,315.7 L1767.8,317.2 L1771.8,318.7 L1775.9,320.3 L1779.9,321.9 L1783.9,323.6 L1787.8,325.3 L1791.8,327.1 L1795.7,328.9 L1799.6,330.7 L1803.4,332.6 L1807.2,334.6 L1811.1,336.5 L1814.8,338.6 L1818.6,340.6 L1822.3,342.8 L1826.0,344.9 L1829.6,347.2 L1833.2,349.4 L1836.8,351.8 L1840.3,354.1 L1843.8,356.6 L1847.3,359.0 L1850.7,361.6 L1854.1,364.2 L1857.5,366.8 L1860.8,369.5 L1864.0,372.2 L1867.3,375.0 L1870.5,377.8 L1873.6,380.7 L1876.7,383.6 L1879.8,386.6 L1882.9,389.6 L1885.9,392.6 L1888.8,395.7 L1891.8,398.8 L1894.7,402.0 L1897.6,405.2 L1900.4,408.4 L1903.2,411.7 L1906.0,415.0 L1908.7,418.3 L1911.4,421.7 L1914.1,425.1 L1916.8,428.5 L1919.4,432.0 L1922.0,435.5 L1924.5,439.0 L1927.1,442.5 L1929.6,446.1 L1932.0,449.7 L1934.5,453.3 L1936.9,456.9 L1939.3,460.6 L1941.7,464.2 L1944.0,467.9 L1946.3,471.6 L1948.6,475.3 L1950.9,479.0 L1953.1,482.8 L1955.4,486.5 L1957.5,490.3 L1959.7,494.1 L1961.9,497.9 L1964.0,501.7 L1966.1,505.5 L1968.2,509.3 L1970.3,513.1 L1972.3,516.9 L1974.3,520.7 L1976.3,524.6 L1978.3,528.4 L1980.3,532.2 L1982.2,536.1 L1984.1,540.0 L1986.0,543.8 L1987.9,547.7 L1989.7,551.6 L1991.5,555.5 L1993.3,559.4 L1995.1,563.3 L1996.9,567.2 L1998.6,571.1 L2000.3,575.1 L2002.0,579.0 L2003.7,583.0 L2005.3,586.9 L2006.9,590.9 L2008.5,594.9 L2010.0,598.9 L2011.6,602.9 L2013.1,606.9 L2014.6,610.9 L2016.1,614.9 L2017.5,618.9 L2018.9,623.0 L2020.3,627.0 L2021.7,631.1 L2023.0,635.1 L2024.3,639.2 L2025.6,643.3 L2026.9,647.4 L2028.1,651.5 L2029.3,655.6 L2030.5,659.7 L2031.7,663.8 L2032.8,668.0 L2033.9,672.1 L2035.0,676.3 L2036.1,680.4 L2037.1,684.6 L2038.1,688.8 L2039.1,693.0 L2040.0,697.2 L2040.9,701.4 L2041.8,705.7 L2042.7,709.9 L2043.5,714.1 L2044.3,718.4 L2045.1,722.7 L2045.9,727.0 L2046.6,731.2 L2047.3,735.5 L2048.0,739.9 L2048.6,744.2 L2049.3,748.5 L2049.8,752.9 L2050.4,757.2"/>
<path d="M344.4,1641.0 L344.5,1637.3 L344.6,1633.6 L344.8,1629.9 L344.9,1626.3 L345.0,1622.6 L345.1,1618.9 L345.3,1615.2 L345.4,1611.5 L345.5,1607.8 L345.6,1604.1 L345.7,1600.4 L345.8,1596.7 L346.0,1593.0 L346.1,1589.3 L346.2,1585.7 L346.3,1582.0 L346.4,1578.3 L346.5,1574.6 L346.6,1570.9 L346.7,1567.2 L346.9,1563.5 L347.0,1559.8 L347.1,1556.1 L347.2,1552.5 L347.3,1548.8 L347.4,1545.1 L347.5,1541.4 L347.6,1537.7 L347.7,1534.0 L347.8,1530.3 L347.9,1526.6 L348.0,1522.9 L348.1,1519.3 L348.2,1515.6 L348.3,1511.9 L348.4,1508.2 L348.5,1504.5 L348.6,1500.8 L348.7,1497.1 L348.8,1493.4 L348.9,1489.8 L349.0,1486.1 L349.1,1482.4 L349.2,1478.7 L349.3,1475.0 L349.4,1471.3 L349.5,1467.6 L349.6,1463.9 L349.7,1460.3 L349.8,1456.6 L349.9,1452.9 L350.0,1449.2 L350.1,1445.5 L350.2,1441.8 L350.3,1438.1 L350.4,1434.4 L350.5,1430.8 L350.6,1427.1 L350.7,1423.4 L350.8,1419.7 L350.9,1416.0 L351.0,1412.3 L351.1,1408.6 L351.2,1405.0 L351.3,1401.3 L351.4,1397.6 L351.5,1393.9 L351.6,1390.2 L351.7,1386.5 L351.8,1382.8 L351.9,1379.1 L352.0,1375.5 L352.1,1371.8 L352.2,1368.1 L352.3,1364.4 L352.4,1360.7 L352.6,1357.0 L352.7,1353.3 L352.8,1349.6 L352.9,1346.0 L353.0,1342.3 L353.1,1338.6 L353.2,1334.9 L353.3,1331.2 L353.4,1327.5 L353.5,1323.8 L353.7,1320.1 L353.8,1316.5 L353.9,1312.8 L354.0,1309.1 L354.1,1305.4 L354.2,1301.7 L354.4,1298.0 L354.5,1294.3 L354.6,1290.6 L354.7,1286.9 L354.8,1283.3 L355.0,1279.6 L355.1,1275.9 L355.2,1272.2 L355.3,1268.5 L355.5,1264.8 L355.6,1261.1 L355.7,1257.4 L355.9,1253.7 L356.0,1250.1 L356.1,1246.4 L356.3,1242.7 L356.4,1239.0 L356.5,1235.3 L356.7,1231.6 L356.8,1227.9 L356.9,1224.2 L357.1,1220.5 L357.2,1216.8 L357.3,1213.2 L357.5,1209.5 L357.6,1205.8 L357.7,1202.1 L357.9,1198.4 L358.0,1194.7 L358.2,1191.0 L358.3,1187.3 L358.5,1183.6 L358.6,1179.9 L358.7,1176.3 L358.9,1172.6 L359.0,1168.9 L359.2,1165.2 L359.3,1161.5 L359.5,1157.8 L359.6,1154.1 L359.7,1150.4 L359.9,1146.7 L360.0,1143.0 L360.2,1139.4 L360.3,1135.7 L360.5,1132.0 L360.6,1128.3 L360.7,1124.6 L360.9,1120.9 L361.0,1117.2 L361.2,1113.5 L361.3,1109.9 L361.5,1106.2 L361.6,1102.5 L361.8,1098.8 L361.9,1095.1 L362.0,1091.4 L362.2,1087.7 L362.3,1084.0 L362.5,1080.4 L362.6,1076.7 L362.8,1073.0 L362.9,1069.3 L363.1,1065.6 L363.2,1061.9 L363.3,1058.2 L363.5,1054.5 L363.6,1050.9 L363.8,1047.2 L363.9,1043.5 L364.0,1039.8 L364.2,1036.1 L364.3,1032.4 L364.4,1028.8 L364.6,1025.1 L364.7,1021.4 L364.9,1017.7 L365.0,1014.0 L365.1,1010.3 L365.3,1006.7 L365.4,1003.0 L365.5,999.3 L365.7,995.6 L365.8,991.9 L365.9,988.2 L366.0,984.6 L366.2,980.9 L366.3,977.2 L366.4,973.5 L366.6,969.8 L366.7,966.2 L366.8,962.5 L366.9,958.8 L367.1,955.1 L367.2,951.5 L367.3,947.8 L367.5,944.1 L367.6,940.4 L367.8,936.7 L367.9,933.1 L368.1,929.4 L368.3,925.7 L368.5,922.0 L368.6,918.3 L368.8,914.7 L369.0,911.0 L369.3,907.3 L369.5,903.6 L369.7,899.9 L370.0,896.3 L370.2,892.6 L370.5,888.9 L370.8,885.2 L371.1,881.5 L371.4,877.8 L371.7,874.2 L372.1,870.5 L372.4,866.8 L372.8,863.1 L373.2,859.4 L373.6,855.7 L374.0,852.0 L374.5,848.3 L375.0,844.7 L375.5,841.0 L376.0,837.3 L376.5,833.6 L377.1,829.9 L377.7,826.2 L378.3,822.5 L378.9,818.8 L379.6,815.2 L380.4,811.5 L381.3,807.9 L382.2,804.4 L383.2,800.8 L384.3,797.4 L385.5,793.9 L386.8,790.5 L388.2,787.2 L389.7,784.0 L391.4,780.8 L393.2,777.7 L395.2,774.7 L397.3,771.8 L399.6,769.0 L402.1,766.3 L404.7,763.7 L407.5,761.2 L410.4,758.8 L413.4,756.5 L416.5,754.3 L419.7,752.2 L423.0,750.3 L426.3,748.5 L429.7,746.8 L433.0,745.2 L436.4,743.7 L439.9,742.4 L443.3,741.1 L446.7,739.9 L450.1,738.7 L453.6,737.5 L457.0,736.3 L460.5,735.2 L463.9,733.9 L467.4,732.7 L470.8,731.5 L474.2,730.2 L477.7,728.9 L481.1,727.6 L484.6,726.3 L488.0,724.9 L491.5,723.6 L495.0,722.3 L498.4,721.0 L501.9,719.7 L505.3,718.4 L508.8,717.1 L512.3,715.8 L515.7,714.5 L519.2,713.2 L522.7,712.0 L526.2,710.7 L529.6,709.4 L533.1,708.2 L536.6,707.0 L540.1,705.7 L543.6,704.5 L547.1,703.3 L550.6,702.1 L554.0,700.9 L557.5,699.7 L561.0,698.5 L564.5,697.3 L568.0,696.2 L571.5,695.0 L575.1,693.8 L578.6,692.7 L582.1,691.5 L585.6,690.4 L589.1,689.3 L592.6,688.2 L596.1,687.0 L599.7,685.9 L603.2,684.8 L606.7,683.7 L610.2,682.6 L613.7,681.5 L617.3,680.5 L620.8,679.4 L624.3,678.3 L627.9,677.3 L631.4,676.2 L634.9,675.2 L638.5,674.1 L642.0,673.1 L645.6,672.0 L649.1,671.0 L652.7,670.0 L656.2,669.0 L659.8,668.0 L663.3,667.0 L666.9,666.0 L670.4,665.0 L674.0,664.0 L677.5,663.0 L681.1,662.0 L684.6,661.1 L688.2,660.1 L691.8,659.1 L695.3,658.2 L698.9,657.2 L702.5,656.3 L706.0,655.4 L709.6,654.4 L713.2,653.5 L716.7,652.6 L720.3,651.7 L723.9,650.8 L727.5,649.9 L731.0,649.0 L734.6,648.1 L738.2,647.2 L741.8,646.3 L745.4,645.4 L748.9,644.5 L752.5,643.7 L756.1,642.8 L759.7,642.0 L763.3,641.1 L766.9,640.3 L770.5,639.4 L774.1,638.6 L777.7,637.7 L781.3,636.9 L784.9,636.1 L788.5,635.3 L792.1,634.5 L795.7,633.7 L799.3,632.9 L802.9,632.1 L806.5,631.3 L810.1,630.5 L813.7,629.7 L817.3,628.9 L820.9,628.1 L824.5,627.4 L828.1,626.6 L831.7,625.9 L835.3,625.1 L838.9,624.4 L842.6,623.6 L846.2,622.9 L849.8,622.2 L853.4,621.4 L857.0,620.7 L860.6,620.0 L864.3,619.3 L867.9,618.6 L871.5,617.9 L875.1,617.2 L878.8,616.5 L882.4,615.8 L886.0,615.1 L889.6,614.4 L893.3,613.7 L896.9,613.1 L900.5,612.4 L904.1,611.7 L907.8,611.1 L911.4,610.4 L915.0,609.8 L918.7,609.1 L922.3,608.5 L925.9,607.8 L929.6,607.2 L933.2,606.6 L936.9,606.0 L940.5,605.4 L944.1,604.7 L947.8,604.1 L951.4,603.5 L955.1,602.9 L958.7,602.3 L962.3,601.7 L966.0,601.2 L969.6,600.6 L973.3,600.0 L976.9,599.4 L980.6,598.9 L984.2,598.3 L987.9,597.7 L991.5,597.2 L995.2,596.6 L998.8,596.1 L1002.5,595.5 L1006.1,595.0 L1009.8,594.5 L1013.4,593.9 L1017.1,593.4 L1020.7,592.9 L1024.4,592.4 L1028.0,591.9 L1031.7,591.3 L1035.3,590.8 L1039.0,590.3 L1042.7,589.8 L1046.3,589.3 L1050.0,588.9 L1053.6,588.4 L1057.3,587.9 L1060.9,587.4 L1064.6,586.9 L1068.3,586.5 L1071.9,586.0 L1075.6,585.6 L1079.2,585.1 L1082.9,584.6 L1086.6,584.2 L1090.2,583.7 L1093.9,583.3 L1097.6,582.9 L1101.2,582.4 L1104.9,582.0 L1108.5,581.6 L1112.2,581.2 L1115.9,580.8 L1119.5,580.3 L1123.2,579.9 L1126.9,579.5 L1130.5,579.1 L1134.2,578.7 L1137.9,578.3 L1141.5,578.0 L1145.2,577.6 L1148.9,577.2 L1152.6,576.8 L1156.2,576.4 L1159.9,576.1 L1163.6,575.7 L1167.2,575.3 L1170.9,575.0 L1174.6,574.6 L1178.3,574.3 L1181.9,573.9 L1185.6,573.6 L1189.3,573.3 L1192.9,572.9 L1196.6,572.6 L1200.3,572.3 L1204.0,572.0 L1207.6,571.7 L1211.3,571.3 L1215.0,571.0 L1218.7,570.7 L1222.4,570.4 L1226.0,570.1 L1229.7,569.8 L1233.4,569.5 L1237.1,569.3 L1240.7,569.0 L1244.4,568.7 L1248.1,568.4 L1251.8,568.2 L1255.5,567.9 L1259.1,567.6 L1262.8,567.4 L1266.5,567.1 L1270.2,566.9 L1273.9,566.6 L1277.6,566.4 L1281.2,566.2 L1284.9,565.9 L1288.6,565.7 L1292.3,565.5 L1296.0,565.3 L1299.7,565.0 L1303.3,564.8 L1307.0,564.6 L1310.7,564.4 L1314.4,564.2 L1318.1,564.0 L1321.8,563.8 L1325.5,563.6 L1329.1,563.4 L1332.8,563.3 L1336.5,563.1 L1340.2,562.9 L1343.9,562.7 L1347.6,562.6 L1351.3,562.4 L1355.0,562.2 L1358.6,562.1 L1362.3,561.9 L1366.0,561.8 L1369.7,561.6 L1373.4,561.5 L1377.1,561.4 L1380.8,561.2 L1384.5,561.1 L1388.2,561.0 L1391.9,560.9 L1395.5,560.7 L1399.2,560.6 L1402.9,560.5 L1406.6,560.4 L1410.3,560.3 L1414.0,560.2 L1417.7,560.1 L1421.4,560.0 L1425.1,559.9 L1428.8,559.9 L1432.5,559.8 L1436.2,559.7 L1439.9,559.6 L1443.6,559.6 L1447.3,559.5 L1450.9,559.5 L1454.6,559.4 L1458.3,559.4 L1462.0,559.3 L1465.7,559.3 L1469.4,559.3 L1473.1,559.4 L1476.8,559.4 L1480.5,559.4 L1484.2,559.5 L1487.9,559.6 L1491.5,559.7 L1495.2,559.9 L1498.9,560.0 L1502.6,560.2 L1506.2,560.4 L1509.9,560.7 L1513.6,561.0 L1517.3,561.3 L1520.9,561.6 L1524.6,562.0 L1528.2,562.5 L1531.9,562.9 L1535.5,563.4 L1539.2,564.0 L1542.8,564.6 L1546.5,565.2 L1550.1,565.9 L1553.7,566.6 L1557.3,567.4 L1560.9,568.3 L1564.5,569.2 L1568.1,570.2 L1571.6,571.3 L1575.1,572.5 L1578.5,573.9 L1581.9,575.3 L1585.3,576.8 L1588.6,578.5 L1591.8,580.3 L1595.0,582.3 L1598.1,584.4 L1601.1,586.7 L1603.8,589.2 L1606.2,592.0 L1608.2,595.1 L1609.8,598.4 L1611.1,601.8 L1612.2,605.3 L1613.2,608.9 L1614.1,612.4 L1614.9,616.0 L1615.6,619.6 L1616.2,623.2 L1616.7,626.8 L1617.1,630.5 L1617.4,634.1 L1617.6,637.8 L1617.8,641.5 L1617.9,645.2 L1618.0,648.9 L1618.0,652.6 L1618.0,656.3 L1617.9,660.0 L1617.9,663.8 L1617.7,667.5 L1617.6,671.2 L1617.5,674.9 L1617.4,678.7 L1617.3,682.4 L1617.1,686.1 L1617.0,689.8 L1616.9,693.5 L1616.7,697.2 L1616.6,701.0 L1616.5,704.7 L1616.3,708.4 L1616.2,712.1 L1616.0,715.8 L1615.9,719.5 L1615.7,723.2 L1615.6,726.9 L1615.5,730.6 L1615.3,734.3 L1615.2,738.0 L1615.0,741.6 L1614.9,745.3 L1614.7,749.0 L1614.6,752.7 L1614.4,756.4 L1614.3,760.1 L1614.1,763.8 L1614.0,767.4 L1613.8,771.1 L1613.7,774.8 L1613.5,778.5 L1613.3,782.2 L1613.2,785.8 L1613.0,789.5 L1612.9,793.2 L1612.7,796.9 L1612.6,800.5 L1612.4,804.2 L1612.3,807.9 L1612.1,811.5 L1612.0,815.2 L1611.8,818.9 L1611.7,822.6 L1611.5,826.2 L1611.4,829.9 L1611.2,833.6 L1611.1,837.2 L1610.9,840.9 L1610.8,844.6 L1610.6,848.2 L1610.5,851.9 L1610.3,855.6 L1610.2,859.2 L1610.1,862.9 L1609.9,866.6 L1609.8,870.2 L1609.6,873.9 L1609.5,877.6 L1609.4,881.2 L1609.2,884.9 L1609.1,888.6 L1609.0,892.3 L1608.9,895.9 L1608.7,899.6 L1608.6,903.3 L1608.5,906.9 L1608.4,910.6 L1608.2,914.3 L1608.1,918.0 L1608.0,921.6 L1607.9,925.3 L1607.8,929.0 L1607.7,932.7 L1607.6,936.4 L1607.5,940.0 L1607.4,943.7 L1607.3,947.4 L1607.2,951.1 L1607.1,954.8 L1607.0,958.5 L1606.9,962.2 L1606.8,965.8 L1606.7,969.5 L1606.7,973.2 L1606.6,976.9 L1606.5,980.6 L1606.4,984.3 L1606.4,988.0 L1606.3,991.7 L1606.3,995.4 L1606.2,999.1 L1606.1,1002.9 L1606.1,1006.6 L1606.1,1010.3 L1606.0,1014.0 L1606.0,1017.7 L1605.9,1021.4 L1605.9,1025.1 L1605.9,1028.9 L1605.9,1032.6 L1605.8,1036.3 L1605.8,1040.1 L1605.8,1043.8 L1605.8,1047.5"/>
</g>
</svg>
</body></html>
